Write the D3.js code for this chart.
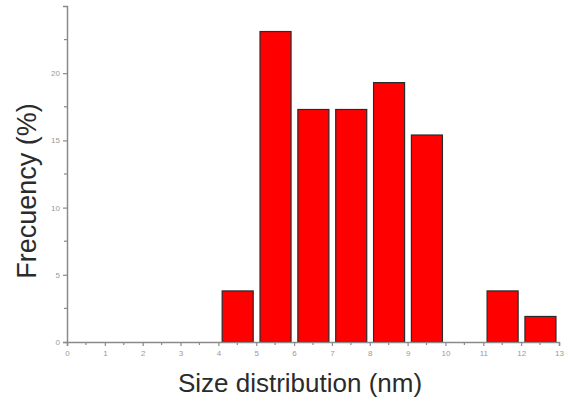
<!DOCTYPE html>
<html>
<head>
<meta charset="utf-8">
<script src="https://cdn.jsdelivr.net/npm/d3@7"></script>
<style>
  body { margin: 0; background: #fff; }
  #chart { width: 570px; height: 403px; }
</style>
</head>
<body>
<div id="chart"></div>
<script>
// Size bins (nm, left edge of each 1 nm bin) and frequency (%)
const binStarts = [4, 5, 6, 7, 8, 9, 11, 12];
const frequencies = [3.8, 23.1, 17.3, 17.3, 19.3, 15.4, 3.8, 1.9];
const xTicks = d3.range(0, 14);
const yTicks = [0, 5, 10, 15, 20];

const width = 570, height = 403;

const svg = d3.select("#chart")
    .append("svg")
    .attr("width", width)
    .attr("height", height);

// Scales
const x = d3.scaleLinear().domain([0, 13]).range([67, 559]);
const y = d3.scaleLinear().domain([0, 25]).range([342, 6]);

const axisColor = "#8a8a8a";
const tickFont = "Arial, 'Liberation Sans', sans-serif";

// Bars
const bars = binStarts.map((b, i) => ({ start: b, value: frequencies[i] }));
svg.append("g")
    .selectAll("rect")
    .data(bars)
    .enter().append("rect")
    .attr("x", d => x(d.start + 0.1))
    .attr("y", d => y(d.value))
    .attr("width", d => x(d.start + 0.92) - x(d.start + 0.1))
    .attr("height", d => y(0) - y(d.value))
    .attr("fill", "#ff0000")
    .attr("stroke", "#2a2a2a")
    .attr("stroke-width", 1.2);

// X axis
const xAxis = svg.append("g")
    .attr("transform", `translate(0,${y(0)})`)
    .call(d3.axisBottom(x).tickValues(xTicks).tickFormat(d3.format("d")).tickSize(4).tickPadding(4));
// minor x ticks
xAxis.selectAll(".minor")
    .data(d3.range(0.5, 13, 1))
    .enter().append("line")
    .attr("class", "minor")
    .attr("x1", d => x(d)).attr("x2", d => x(d))
    .attr("y1", 0).attr("y2", 3);

// Y axis
const yAxis = svg.append("g")
    .attr("transform", `translate(${x(0)},0)`)
    .call(d3.axisLeft(y).tickValues(yTicks).tickSize(4).tickPadding(3));
yAxis.selectAll(".minor")
    .data([2.5, 7.5, 12.5, 17.5, 22.5])
    .enter().append("line")
    .attr("class", "minor")
    .attr("x1", 0).attr("x2", -3)
    .attr("y1", d => y(d)).attr("y2", d => y(d));

[xAxis, yAxis].forEach(ax => {
    ax.select(".domain").attr("stroke", axisColor).attr("stroke-width", 1.5);
    ax.selectAll("line").attr("stroke", axisColor).attr("stroke-width", 1.2);
    ax.selectAll("text")
        .attr("fill", "#9a9a9a")
        .style("font-family", tickFont)
        .style("font-size", "8px");
});

// Axis titles
svg.append("text")
    .attr("x", 300)
    .attr("y", 392)
    .attr("text-anchor", "middle")
    .attr("fill", "#2b2b2b")
    .style("font-family", tickFont)
    .style("font-size", "26px")
    .text("Size distribution (nm)");

svg.append("text")
    .attr("transform", "translate(36,191) rotate(-90)")
    .attr("text-anchor", "middle")
    .attr("fill", "#2b2b2b")
    .style("font-family", tickFont)
    .style("font-size", "27px")
    .text("Frecuency (%)");
</script>
</body>
</html>
